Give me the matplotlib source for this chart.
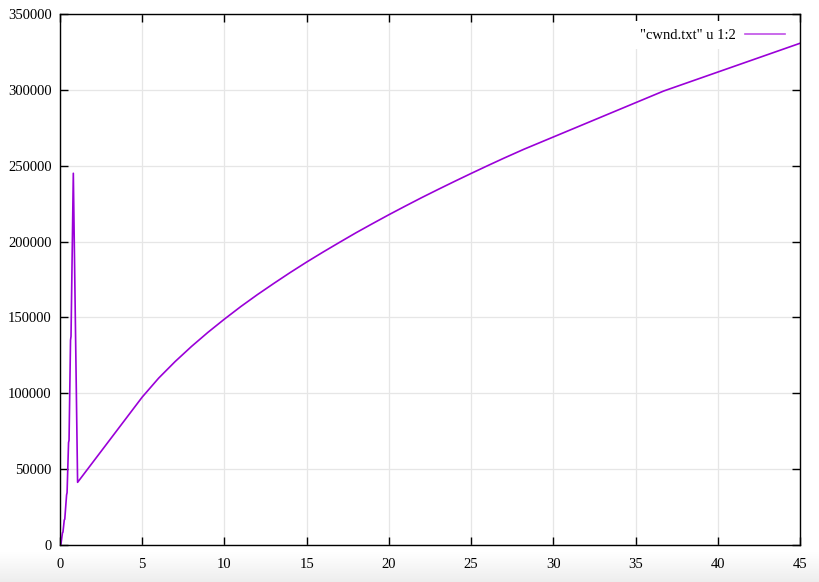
import numpy as np
import matplotlib
matplotlib.use("Agg")
import matplotlib.pyplot as plt

# Data (time in s, cwnd in bytes)
time_s = [0.05, 0.15, 0.18, 0.26, 0.29, 0.40, 0.43, 0.52, 0.55, 0.64, 0.67, 0.81,
          1.07, 5.0, 6.0, 7.0, 8.0, 9.0, 10.0, 11.0, 12.0, 13.0, 14.0, 15.0,
          16.0, 17.0, 18.0, 19.0, 20.0, 21.0, 22.0, 23.0, 24.0, 25.0, 26.0, 27.0,
          28.2, 36.7, 45.0]
cwnd = [0, 8000, 8500, 16500, 17000, 33000, 34500, 67500, 69000, 135000, 137500, 245000,
        41300, 97500, 110000, 120900, 130900, 140200, 148900, 157200, 165000, 172400,
        179600, 186500, 193100, 199500, 205800, 211800, 217700, 223400, 229000, 234400,
        239700, 244900, 250000, 255000, 260800, 299200, 330700]

x_ticks = [0, 5, 10, 15, 20, 25, 30, 35, 40, 45]
y_ticks = [0, 50000, 100000, 150000, 200000, 250000, 300000, 350000]
legend_label = '"cwnd.txt" u 1:2'

plt.rcParams['font.family'] = ['Liberation Serif', 'DejaVu Serif']

W, H = 819, 582
fig = plt.figure(figsize=(W / 100, H / 100), dpi=100)

# bottom screenshot-style gradient
bg = fig.add_axes([0, 0, 1, 1], zorder=-10)
grad = np.ones((H, 1))
ys = np.arange(H)
start = 552
grad[ys >= start, 0] = 1 - 0.07 * (ys[ys >= start] - start) / (H - start)
bg.imshow(np.repeat(grad[:, :, None], 3, axis=2), aspect='auto', extent=[0, 1, 0, 1],
          origin='upper', interpolation='bilinear')
bg.axis('off')

left, right, top, bottom = 60, 800, 14, 545
ax = fig.add_axes([left / W, (H - bottom) / H, (right - left) / W, (bottom - top) / H])
ax.set_facecolor('none')

ax.plot(time_s, cwnd, color='#9a00d8', linewidth=1.2, label=legend_label, zorder=6)

ax.set_xlim(0, 45)
ax.set_ylim(0, 350000)
ax.set_xticks(x_ticks)
ax.set_yticks(y_ticks)
ax.set_xticklabels([str(v) for v in x_ticks])
ax.set_yticklabels([str(v) for v in y_ticks])

ax.grid(True, color='#e6e6e6', linewidth=0.9, zorder=0)
ax.set_axisbelow(True)
for s in ax.spines.values():
    s.set_linewidth(1.0)
    s.set_color('black')
    s.set_zorder(7)
ax.tick_params(direction='in', length=6, width=1.0, top=True, right=True,
               labelsize=10.5, colors='black')
ax.tick_params(axis='x', pad=9)
ax.tick_params(axis='y', pad=6)

leg = ax.legend(loc='upper right', frameon=True, markerfirst=False, fontsize=10.5,
                handlelength=2.8, borderaxespad=0.5, handletextpad=0.6, borderpad=0.5)
leg.get_frame().set_facecolor('white')
leg.get_frame().set_edgecolor('none')
leg.get_frame().set_alpha(1)
leg.get_frame().set_boxstyle('square', pad=0.0)
leg.set_zorder(2)
for ln in leg.get_lines():
    ln.set_color('#c050e8')

fig.savefig('out.png', dpi=100)
